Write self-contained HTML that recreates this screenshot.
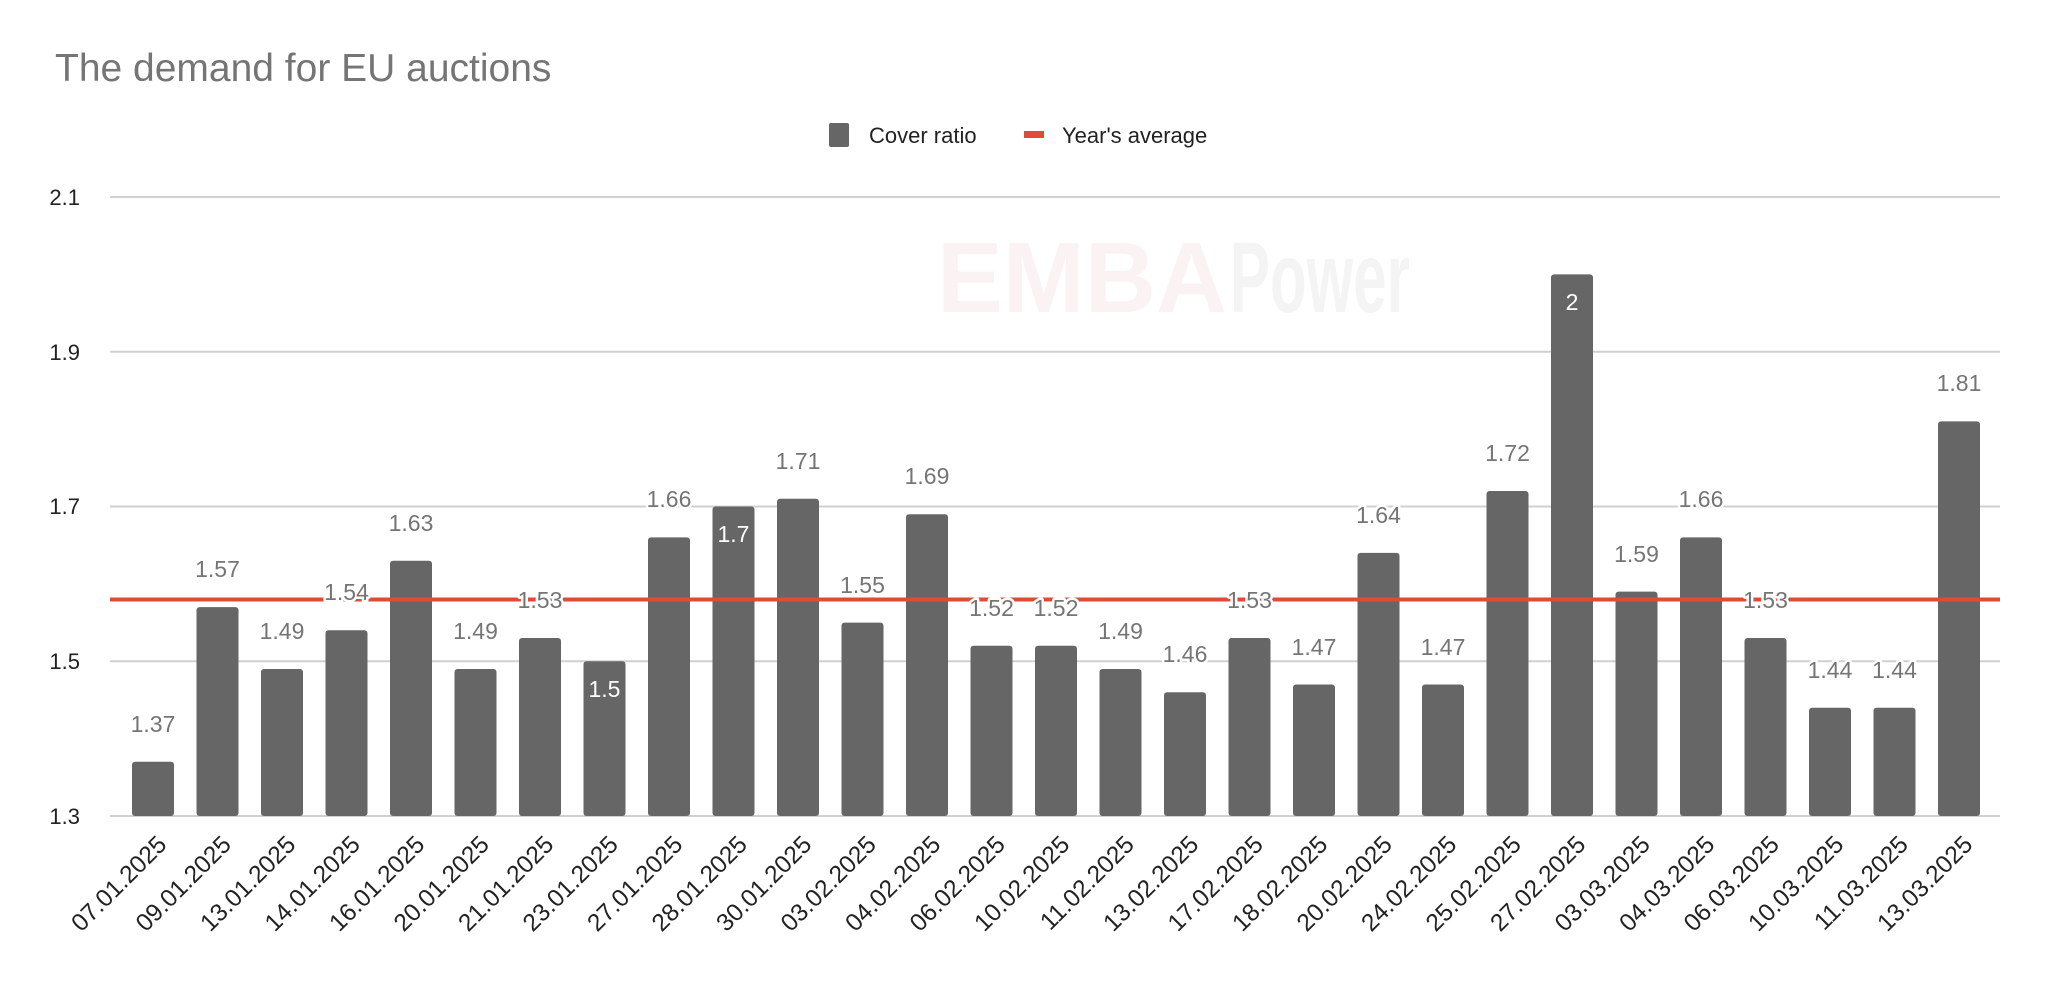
<!DOCTYPE html>
<html><head><meta charset="utf-8"><style>
html,body{margin:0;padding:0;background:#fff;}
svg{display:block;font-family:"Liberation Sans",Arial,sans-serif;}
</style></head><body>
<svg width="2046" height="1004" viewBox="0 0 2046 1004" xmlns="http://www.w3.org/2000/svg">
<rect width="2046" height="1004" fill="#fff"/>
<text x="55" y="81" font-size="39" fill="#757575">The demand for EU auctions</text>
<!-- legend -->
<rect x="829" y="123" width="20" height="24" rx="2" fill="#666"/>
<text x="869" y="143" font-size="22" fill="#222">Cover ratio</text>
<rect x="1024" y="131" width="20" height="7" fill="#dd4b39"/>
<text x="1062" y="143" font-size="22" fill="#222">Year's average</text>
<!-- watermark -->
<text x="937" y="312" font-size="100" font-weight="bold" fill="#fbf3f3" textLength="290" lengthAdjust="spacingAndGlyphs">EMBA</text>
<text x="1230" y="312" font-size="100" font-weight="bold" fill="#f4f4f4" textLength="180" lengthAdjust="spacingAndGlyphs">Power</text>
<!-- grid -->
<g stroke="#d0d0d0" stroke-width="2">
<line x1="110" y1="197" x2="2000" y2="197"/>
<line x1="110" y1="351.75" x2="2000" y2="351.75"/>
<line x1="110" y1="506.5" x2="2000" y2="506.5"/>
<line x1="110" y1="661.25" x2="2000" y2="661.25"/>
<line x1="110" y1="816" x2="2000" y2="816"/>
</g>
<g font-size="22" fill="#222" text-anchor="end">
<text x="80" y="205">2.1</text>
<text x="80" y="360">1.9</text>
<text x="80" y="514">1.7</text>
<text x="80" y="669">1.5</text>
<text x="80" y="824">1.3</text>
</g>
<!-- bars -->
<g fill="#666">
<rect x="132" y="761.8" width="42" height="54.2" rx="3"/>
<rect x="196.5" y="607.1" width="42" height="208.9" rx="3"/>
<rect x="261" y="669" width="42" height="147" rx="3"/>
<rect x="325.5" y="630.3" width="42" height="185.7" rx="3"/>
<rect x="390" y="560.7" width="42" height="255.3" rx="3"/>
<rect x="454.5" y="669" width="42" height="147" rx="3"/>
<rect x="519" y="638" width="42" height="178" rx="3"/>
<rect x="583.5" y="661.25" width="42" height="154.75" rx="3"/>
<rect x="648" y="537.4" width="42" height="278.6" rx="3"/>
<rect x="712.5" y="506.5" width="42" height="309.5" rx="3"/>
<rect x="777" y="498.8" width="42" height="317.2" rx="3"/>
<rect x="841.5" y="622.6" width="42" height="193.4" rx="3"/>
<rect x="906" y="514.2" width="42" height="301.8" rx="3"/>
<rect x="970.5" y="645.8" width="42" height="170.2" rx="3"/>
<rect x="1035" y="645.8" width="42" height="170.2" rx="3"/>
<rect x="1099.5" y="669" width="42" height="147" rx="3"/>
<rect x="1164" y="692.2" width="42" height="123.8" rx="3"/>
<rect x="1228.5" y="638" width="42" height="178" rx="3"/>
<rect x="1293" y="684.5" width="42" height="131.5" rx="3"/>
<rect x="1357.5" y="552.9" width="42" height="263.1" rx="3"/>
<rect x="1422" y="684.5" width="42" height="131.5" rx="3"/>
<rect x="1486.5" y="491" width="42" height="325" rx="3"/>
<rect x="1551" y="274.4" width="42" height="541.6" rx="3"/>
<rect x="1615.5" y="591.6" width="42" height="224.4" rx="3"/>
<rect x="1680" y="537.4" width="42" height="278.6" rx="3"/>
<rect x="1744.5" y="638" width="42" height="178" rx="3"/>
<rect x="1809" y="707.7" width="42" height="108.3" rx="3"/>
<rect x="1873.5" y="707.7" width="42" height="108.3" rx="3"/>
<rect x="1938" y="421.4" width="42" height="394.6" rx="3"/>
</g>
<!-- average line -->
<line x1="110" y1="599.5" x2="2000" y2="599.5" stroke="#dd4b39" stroke-width="4"/>
<!-- value labels -->
<g font-size="23" fill="#757575" text-anchor="middle" stroke="#fff" stroke-width="5" paint-order="stroke" stroke-linejoin="round">
<text x="153" y="732">1.37</text>
<text x="217.5" y="577">1.57</text>
<text x="282" y="639">1.49</text>
<text x="346.5" y="600">1.54</text>
<text x="411" y="531">1.63</text>
<text x="475.5" y="639">1.49</text>
<text x="540" y="608">1.53</text>
<text x="669" y="507">1.66</text>
<text x="798" y="469">1.71</text>
<text x="862.5" y="593">1.55</text>
<text x="927" y="484">1.69</text>
<text x="991.5" y="616">1.52</text>
<text x="1056" y="616">1.52</text>
<text x="1120.5" y="639">1.49</text>
<text x="1185" y="662">1.46</text>
<text x="1249.5" y="608">1.53</text>
<text x="1314" y="655">1.47</text>
<text x="1378.5" y="523">1.64</text>
<text x="1443" y="655">1.47</text>
<text x="1507.5" y="461">1.72</text>
<text x="1636.5" y="562">1.59</text>
<text x="1701" y="507">1.66</text>
<text x="1765.5" y="608">1.53</text>
<text x="1830" y="678">1.44</text>
<text x="1894.5" y="678">1.44</text>
<text x="1959" y="391">1.81</text>
</g>
<g font-size="23" fill="#fff" text-anchor="middle">
<text x="604.5" y="697">1.5</text>
<text x="733.5" y="542">1.7</text>
<text x="1572" y="310">2</text>
</g>
<!-- x labels -->
<g font-size="24.5" fill="#222" text-anchor="end">
<text transform="translate(168,846) rotate(-45)">07.01.2025</text>
<text transform="translate(232.5,846) rotate(-45)">09.01.2025</text>
<text transform="translate(297,846) rotate(-45)">13.01.2025</text>
<text transform="translate(361.5,846) rotate(-45)">14.01.2025</text>
<text transform="translate(426,846) rotate(-45)">16.01.2025</text>
<text transform="translate(490.5,846) rotate(-45)">20.01.2025</text>
<text transform="translate(555,846) rotate(-45)">21.01.2025</text>
<text transform="translate(619.5,846) rotate(-45)">23.01.2025</text>
<text transform="translate(684,846) rotate(-45)">27.01.2025</text>
<text transform="translate(748.5,846) rotate(-45)">28.01.2025</text>
<text transform="translate(813,846) rotate(-45)">30.01.2025</text>
<text transform="translate(877.5,846) rotate(-45)">03.02.2025</text>
<text transform="translate(942,846) rotate(-45)">04.02.2025</text>
<text transform="translate(1006.5,846) rotate(-45)">06.02.2025</text>
<text transform="translate(1071,846) rotate(-45)">10.02.2025</text>
<text transform="translate(1135.5,846) rotate(-45)">11.02.2025</text>
<text transform="translate(1200,846) rotate(-45)">13.02.2025</text>
<text transform="translate(1264.5,846) rotate(-45)">17.02.2025</text>
<text transform="translate(1329,846) rotate(-45)">18.02.2025</text>
<text transform="translate(1393.5,846) rotate(-45)">20.02.2025</text>
<text transform="translate(1458,846) rotate(-45)">24.02.2025</text>
<text transform="translate(1522.5,846) rotate(-45)">25.02.2025</text>
<text transform="translate(1587,846) rotate(-45)">27.02.2025</text>
<text transform="translate(1651.5,846) rotate(-45)">03.03.2025</text>
<text transform="translate(1716,846) rotate(-45)">04.03.2025</text>
<text transform="translate(1780.5,846) rotate(-45)">06.03.2025</text>
<text transform="translate(1845,846) rotate(-45)">10.03.2025</text>
<text transform="translate(1909.5,846) rotate(-45)">11.03.2025</text>
<text transform="translate(1974,846) rotate(-45)">13.03.2025</text>
</g>
</svg>
</body></html>
